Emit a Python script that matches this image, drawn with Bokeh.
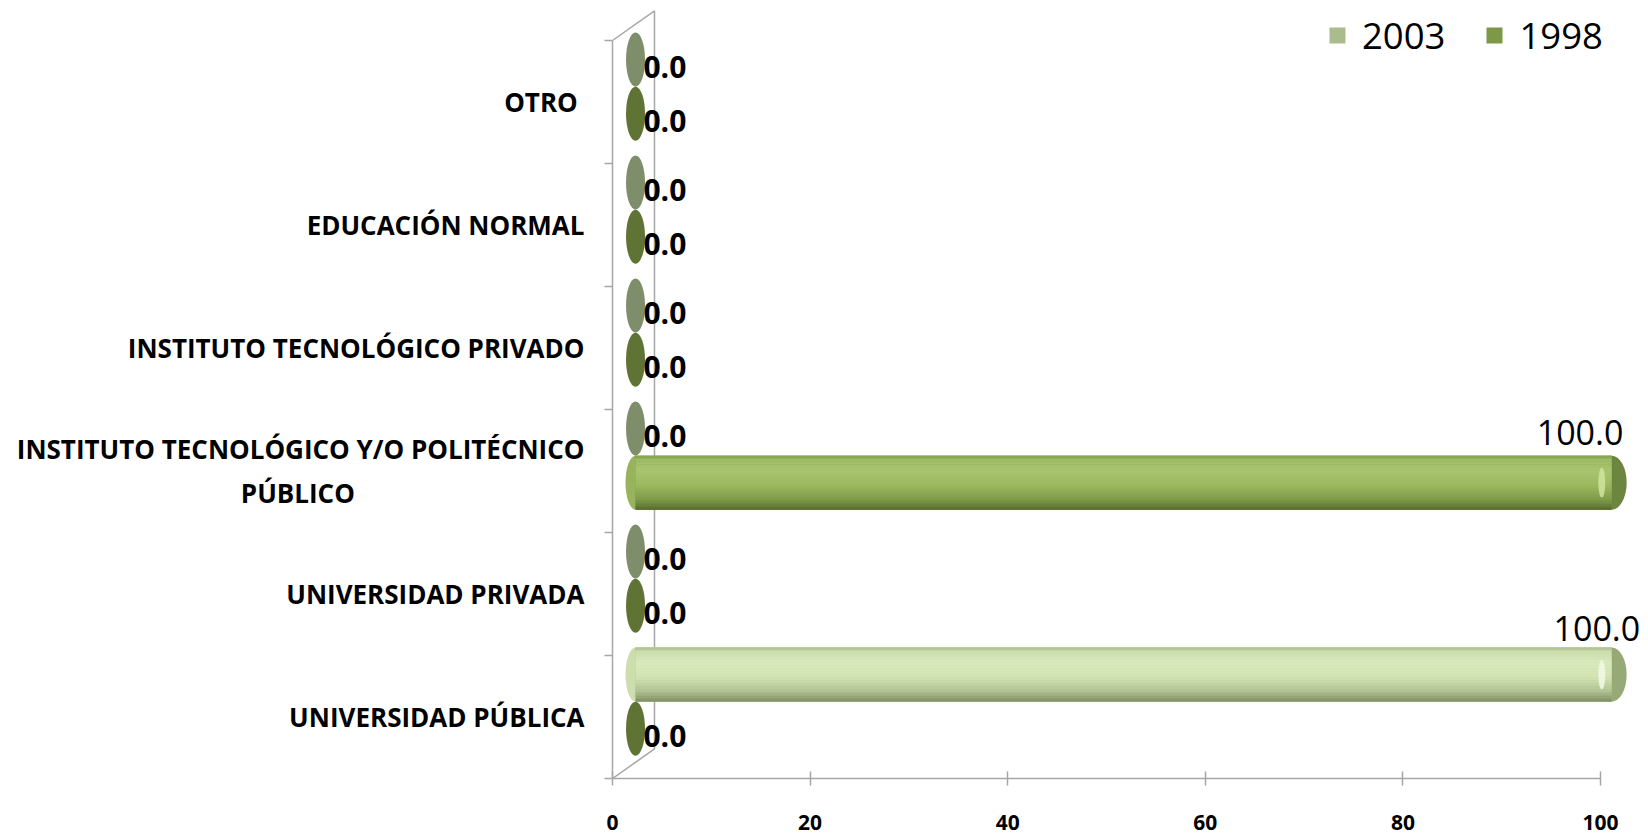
from bokeh.plotting import figure
from bokeh.models import ColumnDataSource, FixedTicker, Legend, LegendItem, Range1d
from bokeh.core.properties import value
from bokeh.embed import file_html
from bokeh.resources import INLINE

# ---------------- data ----------------
categories = [
    "UNIVERSIDAD PÚBLICA",
    "UNIVERSIDAD PRIVADA",
    "INSTITUTO TECNOLÓGICO Y/O POLITÉCNICO\nPÚBLICO" + "\u00a0" * 34,
    "INSTITUTO TECNOLÓGICO PRIVADO",
    "EDUCACIÓN NORMAL",
    "OTRO" + "\u00a0",
]
values_2003 = [100.0, 0.0, 0.0, 0.0, 0.0, 0.0]
values_1998 = [0.0, 0.0, 100.0, 0.0, 0.0, 0.0]
series_names = ["2003", "1998"]
x_ticks = [0, 20, 40, 60, 80, 100]

# ---------------- styling / geometry ----------------
FONT = "Open Sans"
X0 = 2.33          # where the (3D) bars start
SCALE = 0.988      # perspective shrink of bar length
H = 0.44           # bar thickness (category units)
N = 18             # gradient strips
DEPTH_X, DEPTH_Y = 4.25, 0.24

series_style = {
    "2003": dict(off=0.845,
                 stops=[(0, "#a2b383"), (0.06, "#c9dcac"), (0.28, "#d9ebbc"),
                        (0.55, "#d2e4b3"), (0.8, "#b2c493"), (0.94, "#8f9f70"), (1.0, "#7d8c60")],
                 mid="#aabb8c", zero="#7f8e6a", cap="#98a978", hl="#f2f9e4",
                 ldx=-1.5, ldy=-46),
    "1998": dict(off=0.405,
                 stops=[(0, "#7a9344"), (0.06, "#9dbb64"), (0.28, "#a8c56e"),
                        (0.55, "#9cb960"), (0.8, "#819c4a"), (0.94, "#667e39"), (1.0, "#56692f")],
                 mid="#7d9846", zero="#5f7335", cap="#6c8640", hl="#cfe59c",
                 ldx=-3.2, ldy=-50),
}


def hex2rgb(h):
    h = h.lstrip("#")
    return tuple(int(h[i:i + 2], 16) for i in (0, 2, 4))


def interp(stops, t):
    for (t0, c0), (t1, c1) in zip(stops[:-1], stops[1:]):
        if t0 <= t <= t1:
            a = (t - t0) / (t1 - t0) if t1 > t0 else 0
            r0, r1 = hex2rgb(c0), hex2rgb(c1)
            return "#%02x%02x%02x" % tuple(int(round(r0[k] + (r1[k] - r0[k]) * a)) for k in range(3))
    return stops[-1][1]


# ---------------- figure ----------------
W, HGT = 1644, 836
LEFT, FRAME_BOTTOM = 612, 778
BOTTOM = HGT - FRAME_BOTTOM
frame_w = W - LEFT
frame_h = FRAME_BOTTOM
px_per_x = 9.88
px_per_y = 123.0

p = figure(width=W, height=HGT, output_backend="svg", toolbar_location=None,
           x_range=Range1d(0, frame_w / px_per_x), y_range=Range1d(0, frame_h / px_per_y),
           min_border_left=LEFT, min_border_right=0, min_border_top=0, min_border_bottom=BOTTOM,
           background_fill_color="white", border_fill_color="white")
p.outline_line_color = None
p.grid.visible = False

# axes
xa = p.xaxis[0]
xa.ticker = FixedTicker(ticks=x_ticks, minor_ticks=[])
xa.bounds = (0, 100)
xa.axis_line_color = "#a6a6a6"
xa.axis_line_width = 1.5
xa.major_tick_line_color = "#a6a6a6"
xa.major_tick_line_width = 1.5
xa.major_tick_in = 7
xa.major_tick_out = 7
xa.major_label_standoff = 29
xa.major_label_text_font = FONT
xa.major_label_text_font_style = "bold"
xa.major_label_text_font_size = "21px"
xa.major_label_text_color = "black"

ya = p.yaxis[0]
centers = [i + 0.5 for i in range(len(categories))]
ya.ticker = FixedTicker(ticks=centers, minor_ticks=list(range(len(categories) + 1)))
ya.bounds = (0, len(categories))
ya.major_label_overrides = {c: lab for c, lab in zip(centers, categories)}
ya.axis_line_color = "#a6a6a6"
ya.axis_line_width = 1.5
ya.major_tick_in = 0
ya.major_tick_out = 0
ya.minor_tick_in = 0
ya.minor_tick_out = 8
ya.minor_tick_line_color = "#a6a6a6"
ya.minor_tick_line_width = 1.5
ya.major_label_standoff = 20
ya.major_label_text_font = FONT
ya.major_label_text_font_style = "bold"
ya.major_label_text_font_size = "26px"
ya.major_label_text_color = "black"

# 3D back wall lines
ncat = len(categories)
p.line(x=[0, DEPTH_X, DEPTH_X, 0], y=[ncat, ncat + DEPTH_Y, DEPTH_Y, 0],
       line_color="#a6a6a6", line_width=1.5)

legend_items = []
for name, vals in zip(series_names, [values_2003, values_1998]):
    st = series_style[name]
    ys = [i + st["off"] for i in range(ncat)]
    xcap = [X0 + v * SCALE for v in vals]
    nz = [v > 0 for v in vals]

    # zero-length bars: just the end face
    zsrc = ColumnDataSource(dict(x=[X0 for z in nz if not z], y=[y for y, z in zip(ys, nz) if not z]))
    p.ellipse(x="x", y="y", width=19 / px_per_x, height=H * 1.0, source=zsrc,
              fill_color=st["zero"], line_color=None)

    # non-zero bars: rounded ends
    nsrc = ColumnDataSource(dict(xl=[X0 for z in nz if z], xr=[xc for xc, z in zip(xcap, nz) if z],
                                 y=[y for y, z in zip(ys, nz) if z]))
    p.ellipse(x="xr", y="y", width=30 / px_per_x, height=H, source=nsrc,
              fill_color=st["cap"], line_color=None)
    p.ellipse(x="xl", y="y", width=20 / px_per_x, height=H, source=nsrc,
              fill_color=interp(st["stops"], 0.6), line_color=None)

    # cylinder body: base + vertical gradient strips
    base = p.hbar(y="y", left="xl", right="xr", height=H, source=nsrc,
                  fill_color=st["mid"], line_color=None)
    sh = H / N
    for k in range(N):
        t = (k + 0.5) / N
        src = ColumnDataSource(dict(y=[y + H / 2 - t * H for y in nsrc.data["y"]],
                                    left=nsrc.data["xl"], right=nsrc.data["xr"]))
        p.hbar(y="y", left="left", right="right", height=sh * 1.15, source=src,
               fill_color=interp(st["stops"], t), line_color=None)

    # highlight on the cap
    hl_src = ColumnDataSource(dict(x=[x - 1.0 for x in nsrc.data["xr"]], y=nsrc.data["y"]))
    p.ellipse(x="x", y="y", width=7 / px_per_x, height=H * 0.55, source=hl_src,
              fill_color=st["hl"], fill_alpha=0.85, line_color=None)

    # value labels
    zx = [X0 + 0.8 for v in vals if v == 0]
    zy = [y for y, v in zip(ys, vals) if v == 0]
    zt = ["%.1f" % v for v in vals if v == 0]
    p.text(x=zx, y=zy, text=zt, text_font=value(FONT), text_font_style="bold",
           text_font_size="30px", text_align="left", text_baseline="middle",
           y_offset=7, text_color="black")
    bx = [xc + st["ldx"] for xc, v in zip(xcap, vals) if v > 0]
    by = [y for y, v in zip(ys, vals) if v > 0]
    bt = ["%.1f" % v for v in vals if v > 0]
    p.text(x=bx, y=by, text=bt, text_font=value(FONT), text_font_size="34px",
           text_align="center", text_baseline="middle", y_offset=st["ldy"], text_color="black")

    legend_items.append(LegendItem(label=name, renderers=[base]))

legend = Legend(items=legend_items, orientation="horizontal", location=(715, 718),
                background_fill_alpha=0, border_line_alpha=0, padding=0, margin=0,
                spacing=39, label_standoff=15, glyph_width=20, glyph_height=20,
                label_text_font=FONT, label_text_font_size="36.5px", label_text_color="black")
p.add_layout(legend)

open("out.html", "w").write(file_html(p, INLINE))
